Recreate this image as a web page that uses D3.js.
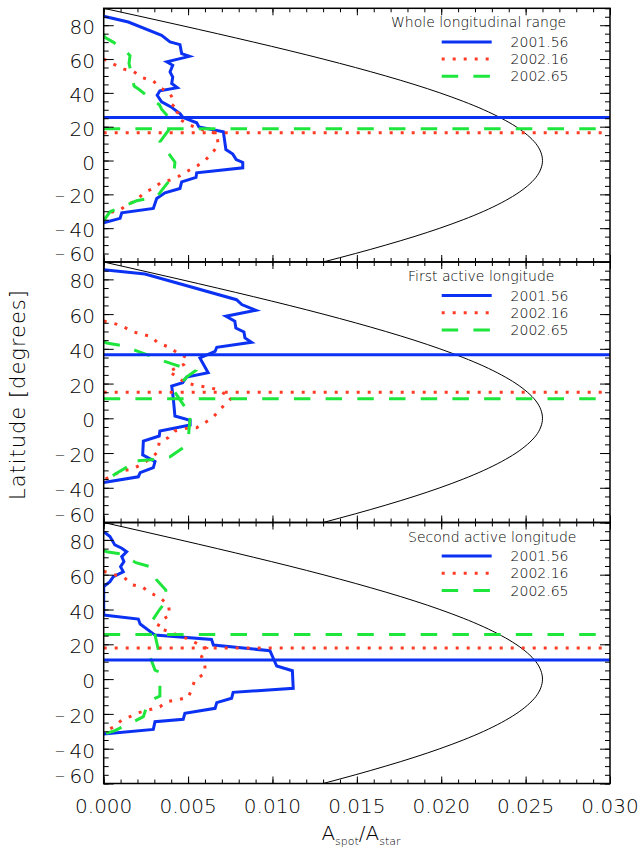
<!DOCTYPE html>
<html>
<head>
<meta charset="utf-8">
<script src="https://cdn.jsdelivr.net/npm/d3@7"></script>
<style>
  body { margin: 0; background: #fff; }
  svg { display: block; }
  text { font-family: "DejaVu Sans", "Liberation Sans", sans-serif; fill: #000; }
</style>
</head>
<body>
<svg id="chart" width="641" height="849"></svg>
<script>
// ---- data -------------------------------------------------------------
const years = ["2001.56", "2002.16", "2002.65"];
const panelTitles = ["Whole longitudinal range", "First active longitude", "Second active longitude"];

// latitude tick labels and x tick labels
const latTicks = [80, 60, 40, 20, 0, -20, -40, -60];
const areaTicks = [0, 0.005, 0.010, 0.015, 0.020, 0.025, 0.030];

// projected visible-disc limit: spot area fraction vs latitude
const limbLat  = [90, 85, 80, 75, 70, 65, 60, 55, 50, 45, 40, 35, 30, 25, 20, 15, 10, 5, 0,
                  -5, -10, -15, -20, -25, -30, -35, -40, -45, -50, -55, -60];
const limbArea = [0, 0.00227, 0.00452, 0.00673, 0.00889, 0.01099, 0.0130, 0.01491, 0.01671, 0.01839,
                  0.01992, 0.02130, 0.02252, 0.02356, 0.02443, 0.02511, 0.02561, 0.02590, 0.0260,
                  0.02590, 0.02561, 0.02511, 0.02443, 0.02356, 0.02252, 0.02130, 0.01992, 0.01839,
                  0.01671, 0.01491, 0.0130];

// Whole longitudinal range (areas in units of 1e-3)
const whole2001Lat  = [85.3, 81.9, 74, 70.1, 68.5, 63.2, 61.6, 58.3, 56.3, 52.4, 49.4, 45.5, 43.1, 41.2, 38.6, 34.7,
                       31.7, 27.8, 25.4, 22.3, 19.9, 17, 6.5, 3.8, 0.6, -1.1, -4.3, -7.3, -10, -12.6, -16.5, -19.1,
                       -22.4, -28.3, -30.9, -34.2, -36.8];
const whole2001Area = [0, 1.46, 3.43, 3.93, 4.52, 4.62, 5.08, 3.74, 4.09, 3.93, 4.09, 4.03, 4.36, 3.33, 3.17, 3.43,
                       3.99, 4.52, 4.71, 5.51, 5.64, 7.09, 7.24, 7.65, 7.85, 8.24, 8.24, 5.51, 5.47, 4.62, 4.52, 3.63,
                       3.14, 2.94, 1.07, 0.97, 0];
const whole2002aLat  = [60, 57, 54, 52.8, 49, 47, 43.2, 39.6, 34, 31, 28, 24.4, 21, 18, 16, 9, 4, 0, -3, -6, -9,
                        -11.5, -13, -16.5, -19, -23.5, -26, -29, -31, -34];
const whole2002aArea = [0, 0.57, 1.2, 1.75, 2.3, 2.94, 3.33, 3.93, 4.22, 3.99, 4.42, 4.48, 5.08, 5.9, 6.7, 6.79,
                        6.39, 6.0, 5.57, 5.02, 4.52, 3.93, 3.39, 2.94, 2.39, 1.95, 1.4, 1.0, 0.33, 0];
const whole2002bLat  = [75, 73, 70, 64.8, 62, 57.5, 47.5, 44, 42, 36.2, 33, 30.3, 24, 20, 11, 7, 6, -1, -8.6,
                        -16.5, -21.5, -23.8, -25.8, -30.3, -33, -35.6];
const whole2002bArea = [0, 0.04, 0.56, 1.31, 1.56, 1.5, 1.72, 1.8, 2.1, 2.84, 3.3, 3.43, 3.99, 3.99, 3.33, 3.5,
                        3.71, 4.22, 4.15, 3.53, 3.14, 1.95, 1.46, 0.37, 0.18, 0];
const wholeMeanLat = [25.5, 16.4, 18.8];

// First active longitude
const first2001Lat  = [85.6, 83.1, 68.3, 65.5, 62.2, 58.8, 55.9, 52, 49.7, 46.3, 43.8, 40.9, 38.6, 34.8, 26.2, 23.7,
                       20.5, 18.5, 11.8, 1.3, -1.2, -3.9, -7.3, -10.2, -13.1, -21.1, -24.9, -28.4, -31.3, -33.7, -37];
const first2001Area = [0, 2.45, 7.87, 8.18, 9.02, 7.24, 7.77, 7.83, 8.31, 8.37, 8.76, 6.7, 6.6, 5.7, 6.19, 4.91,
                       4.68, 4.03, 4.12, 4.22, 5.12, 5.12, 3.33, 3.29, 2.35, 2.31, 3.04, 2.94, 2.16, 2.05, 0];
const first2002aLat  = [56, 54.9, 53.4, 50.5, 48.6, 47.1, 43.3, 41, 37.7, 34.8, 31, 26.8, 24.3, 20.5, 19.1, 18, 16.6,
                        11.8, 5.1, 0.3, -2.5, -5.4, -5.8, -7.3, -11.1, -14, -19.8, -23.6, -26.5, -29.3, -30.3,
                        -33.2, -35.5];
const first2002aArea = [0, 0.47, 1.07, 1.56, 2.16, 2.8, 3.23, 3.87, 4.36, 4.95, 4.75, 3.83, 4.32, 4.81, 5.41, 6.1,
                        6.7, 7.58, 6.89, 6.46, 6.0, 5.51, 4.87, 4.22, 3.83, 3.29, 3.17, 2.7, 2.26, 1.66, 1.07, 0.47, 0];
const first2002bLat  = [44, 43.4, 41.9, 39, 36.4, 32.9, 30.6, 27.2, 23.7, 18.5, 15.7, 5.7, 4.2, 0.7, -10.7, -16.9,
                        -22.2, -23.6, -24.9, -28, -32.2, -37];
const first2002bArea = [0, 0.18, 1.07, 1.91, 2.64, 3.57, 4.28, 5.41, 4.91, 4.42, 4.17, 4.87, 5.16, 5.12, 5.02, 4.71,
                        3.93, 3.1, 1.46, 1.4, 0.66, 0];
const firstMeanLat = [36.6, 15.0, 11.3];

// Second active longitude
const second2001Lat  = [84.7, 81.9, 77.1, 75.2, 73.2, 70.4, 67.5, 64.6, 61.7, 58.9, 56, 53.1, 36.8, 34.5, 31.7, 25.3,
                        22.8, 19.6, 16.3, 7.5, 4.8, -5.3, -7.6, -11, -13.5, -16.8, -19.7, -23.1, -24.5, -28.9, -31.6];
const second2001Area = [0, 0.37, 0.66, 1.07, 1.36, 1.07, 1.2, 1.0, 1.16, 0.57, 0.37, 0, 0, 2.05, 2.16, 3.04, 6.39,
                        6.5, 9.85, 10.25, 11.18, 11.23, 7.67, 7.58, 6.7, 6.6, 4.81, 4.71, 3.04, 2.94, 0];
const second2002aLat  = [62, 60.4, 58.5, 54.1, 53.1, 49.7, 46.8, 42.6, 36.8, 34, 29.8, 23.4, 17.7, 12.9, 7.1, 3.3,
                         -0.5, -10.5, -12, -13, -15.9, -17.8, -19.3, -21.6, -23.5, -27.7, -30.2];
const second2002aArea = [0, 0.47, 1.2, 1.71, 2.26, 2.74, 3.33, 3.83, 3.93, 3.43, 3.17, 4.91, 6.1, 5.8, 6.0, 6.0,
                         5.41, 5.02, 4.32, 3.74, 3.33, 2.64, 2.05, 1.56, 1.07, 0.57, 0];
const second2002bLat  = [74, 73.2, 71.9, 66.9, 64.6, 57.4, 51.2, 44.5, 39.7, 33, 25.3, 14.8, 12.9, 5.2, 3.7, -0.1,
                         -9.7, -13, -21.6, -25, -29.6, -31.6];
const second2002bArea = [0, 0.18, 1.0, 1.91, 2.74, 3.1, 3.68, 3.68, 3.29, 2.84, 3.04, 3.29, 2.74, 3.04, 3.37, 3.33,
                         3.33, 2.64, 2.35, 1.66, 0.66, 0];
const secondMeanLat = [11.0, 17.9, 25.7];

// ---- layout / styles --------------------------------------------------
const plotLeft = 103.7, plotRight = 610;
const panelBounds = [[8.3, 262], [262, 522.5], [522.5, 783.5]];
const titleLeft = [391, 408, 408];
const seriesStyle = [
  { color: "#0b32f2", dash: null },
  { color: "#ff3b26", dash: "3,8" },
  { color: "#1fe63c", dash: "16.5,15.2" }
];

const panels = [
  { title: panelTitles[0], series: [[whole2001Lat, whole2001Area], [whole2002aLat, whole2002aArea], [whole2002bLat, whole2002bArea]], mean: wholeMeanLat },
  { title: panelTitles[1], series: [[first2001Lat, first2001Area], [first2002aLat, first2002aArea], [first2002bLat, first2002bArea]], mean: firstMeanLat },
  { title: panelTitles[2], series: [[second2001Lat, second2001Area], [second2002aLat, second2002aArea], [second2002bLat, second2002bArea]], mean: secondMeanLat }
];

const svg = d3.select("#chart");
const x = d3.scaleLinear().domain([0, 0.030]).range([plotLeft, plotRight]);

panels.forEach((p, i) => {
  const [top, bottom] = panelBounds[i];
  const y = d3.scaleLinear().domain([-60, 90]).range([bottom, top]);
  const g = svg.append("g");

  const clipId = "clip" + i;
  svg.append("clipPath").attr("id", clipId)
    .append("rect").attr("x", plotLeft).attr("y", top)
    .attr("width", plotRight - plotLeft).attr("height", bottom - top);
  const plot = g.append("g").attr("clip-path", `url(#${clipId})`);

  // limb curve
  const limbLine = d3.line().x(d => x(d[1])).y(d => y(d[0])).curve(d3.curveNatural);
  plot.append("path")
    .datum(limbLat.map((la, k) => [la, limbArea[k]]))
    .attr("d", limbLine).attr("fill", "none").attr("stroke", "#000").attr("stroke-width", 1);

  // area profiles
  const profLine = d3.line().x(d => x(d[1] * 1e-3)).y(d => y(d[0]));
  p.series.forEach(([lats, areas], s) => {
    const st = seriesStyle[s];
    plot.append("path")
      .datum(lats.map((la, k) => [la, areas[k]]))
      .attr("d", profLine).attr("fill", "none")
      .attr("stroke", st.color).attr("stroke-width", 3)
      .attr("stroke-linejoin", "miter")
      .attr("stroke-dasharray", st.dash);
  });

  // mean latitudes
  p.mean.forEach((m, s) => {
    const st = seriesStyle[s];
    plot.append("line")
      .attr("x1", plotLeft).attr("x2", plotRight)
      .attr("y1", y(m)).attr("y2", y(m))
      .attr("stroke", st.color).attr("stroke-width", 3)
      .attr("stroke-dasharray", st.dash);
  });

  // ticks (pointing inward on all four sides)
  const minorY = d3.range(-60, 91, 5);
  const majorY = d3.range(-60, 91, 20);
  const minorX = d3.range(0, 31).map(v => v * 0.001);
  const majorX = d3.range(0, 7).map(v => v * 0.005);
  const tickG = g.append("g").attr("stroke", "#000").attr("stroke-width", 1);
  const addAxis = (axis, tx, ty, vals, size) => {
    const a = tickG.append("g").attr("transform", `translate(${tx},${ty})`)
      .call(axis.tickValues(vals).tickSize(-size).tickFormat(""));
    a.select(".domain").remove();
    a.selectAll("line").attr("stroke", "#000");
  };
  addAxis(d3.axisLeft(y), plotLeft, 0, minorY, 5);
  addAxis(d3.axisLeft(y), plotLeft, 0, majorY, 10);
  addAxis(d3.axisRight(y), plotRight, 0, minorY, 5);
  addAxis(d3.axisRight(y), plotRight, 0, majorY, 10);
  addAxis(d3.axisBottom(x), 0, bottom, minorX, 4);
  addAxis(d3.axisBottom(x), 0, bottom, majorX, 7);
  addAxis(d3.axisTop(x), 0, top, minorX, 4);
  addAxis(d3.axisTop(x), 0, top, majorX, 7);

  // frame
  g.append("rect").attr("x", plotLeft).attr("y", top)
    .attr("width", plotRight - plotLeft).attr("height", bottom - top)
    .attr("fill", "none").attr("stroke", "#000").attr("stroke-width", 1.5);

  // latitude labels
  latTicks.forEach(t => {
    const ty = t === -60 ? y(t) - 8 : y(t) + 2;
    const txt = g.append("text").attr("x", 95).attr("y", ty)
      .attr("text-anchor", "end").attr("dominant-baseline", "central")
      .attr("font-size", 20).attr("font-weight", 200);
    if (t < 0) {
      txt.append("tspan").attr("font-size", 13).text("\u2212");
      txt.append("tspan").text("\u2009" + Math.abs(t));
    } else {
      txt.text(t);
    }
  });

  // legend
  const lg = g.append("g");
  lg.append("text").attr("x", titleLeft[i]).attr("y", top + 19)
    .attr("text-anchor", "start").attr("font-size", 14).attr("font-weight", 200)
    .text(p.title);
  years.forEach((yr, s) => {
    const st = seriesStyle[s];
    const ry = top + 33.6 + s * 17.2;
    lg.append("line").attr("x1", 441.7).attr("x2", 491.7).attr("y1", ry).attr("y2", ry)
      .attr("stroke", st.color).attr("stroke-width", 3).attr("stroke-dasharray", st.dash);
    lg.append("text").attr("x", 568.5).attr("y", ry + 5)
      .attr("text-anchor", "end").attr("font-size", 14).attr("font-weight", 200)
      .text(yr);
  });

  // x tick labels only on the lowest panel
  if (i === panels.length - 1) {
    areaTicks.forEach(t => {
      g.append("text").attr("x", x(t)).attr("y", bottom + 29)
        .attr("text-anchor", "middle").attr("font-size", 20).attr("font-weight", 200)
        .text(d3.format(".3f")(t));
    });
  }
});

// axis titles
const xt = svg.append("text").attr("x", 361).attr("y", 840)
  .attr("text-anchor", "middle").attr("font-size", 20).attr("font-weight", 200);
xt.append("tspan").text("A");
xt.append("tspan").attr("font-size", 11).attr("dy", 5).text("spot");
xt.append("tspan").attr("dy", -5).text("/A");
xt.append("tspan").attr("font-size", 11).attr("dy", 5).text("star");

svg.append("text")
  .attr("transform", "translate(25,395) rotate(-90)")
  .attr("text-anchor", "middle").attr("font-size", 21).attr("font-weight", 200)
  .attr("textLength", 210).attr("lengthAdjust", "spacing")
  .text("Latitude  [degrees]");
</script>
</body>
</html>
